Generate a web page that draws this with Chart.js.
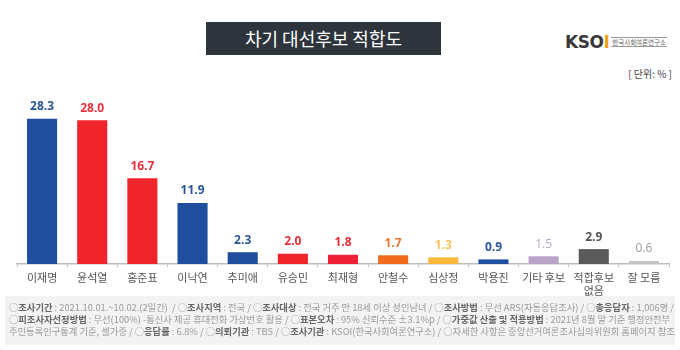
<!DOCTYPE html>
<html>
<head>
<meta charset="utf-8">
<script src="https://cdn.jsdelivr.net/npm/chart.js@4"></script>
<style>
  body { margin: 0; width: 680px; height: 350px; background: #fff; font-family: "Noto Sans CJK KR", "Noto Sans", sans-serif; position: relative; overflow: hidden; }
  #title { position: absolute; left: 206px; top: 22px; width: 235px; height: 33px; background: #2e343c; color: #fff; font-size: 18px; line-height: 33px; text-align: center; }
  #logo { position: absolute; left: 565px; top: 32px; height: 20px; display: flex; align-items: center; }
  #logo .k { font-family: "DejaVu Sans", sans-serif; font-weight: bold; font-size: 17px; color: #3a3a3a; letter-spacing: -0.5px; }
  #logo .k span { color: #f0a020; }
  #logo .sub { margin-left: 2px; font-size: 6.5px; color: #666; border-top: 1px solid #999; border-bottom: 1px solid #999; line-height: 8px; padding: 0 1px; }
  #unit { position: absolute; right: 8px; top: 66px; font-size: 10px; color: #444; }
  #chartBox { position: absolute; left: 0; top: 0; width: 680px; height: 300px; }
  #footer { position: absolute; left: 5px; top: 296px; width: 670px; height: 49px; background: #f3f3f3; font-size: 9.3px; color: #9a9a9a; line-height: 12px; padding: 5px 0 0 4px; box-sizing: border-box; white-space: nowrap; }
  #footer b { color: #666; }
</style>
</head>
<body>
<div id="title">차기 대선후보 적합도</div>
<div id="logo"><div class="k">KSO<span>I</span></div><div class="sub">한국사회여론연구소</div></div>
<div id="unit">[ 단위: % ]</div>
<div id="chartBox"><canvas id="chart"></canvas></div>
<div id="footer">
  ○<b>조사기간</b> : 2021.10.01.~10.02.(2일간) &nbsp;/ ○<b>조사지역</b> : 전국 / ○<b>조사대상</b> : 전국 거주 만 18세 이상 성인남녀 / ○<b>조사방법</b> : 무선 ARS(자동응답조사) / ○<b>총응답자</b> : 1,006명 /<br>
  ○<b>피조사자선정방법</b> : 무선(100%) -통신사 제공 휴대전화 가상번호 활용 / ○<b>표본오차</b> : 95% 신뢰수준 ±3.1%p / ○<b>가중값 산출 및 적용방법</b> : 2021년 8월 말 기준 행정안전부<br>
  주민등록인구통계 기준, 셀가중 / ○<b>응답률</b> : 6.8% / ○<b>의뢰기관</b> : TBS / ○<b>조사기관</b> : KSOI(한국사회여론연구소) / ○자세한 사항은 중앙선거여론조사심의위원회 홈페이지 참조
</div>
<script>
const candidates = ['이재명', '윤석열', '홍준표', '이낙연', '추미애', '유승민', '최재형', '안철수', '심상정', '박용진', '기타 후보', ['적합후보', '없음'], '잘 모름'];
const support = [28.3, 28.0, 16.7, 11.9, 2.3, 2.0, 1.8, 1.7, 1.3, 0.9, 1.5, 2.9, 0.6];
const barColors = ['#1f4e9e', '#f0242b', '#f0242b', '#1f4e9e', '#1f4e9e', '#f0242b', '#ee2138', '#f26a1e', '#fbb83a', '#1f4e9e', '#b9a3c9', '#5a5a5a', '#c4c4c4'];
const labelColors = ['#2a5597', '#e8303a', '#e8303a', '#2a5597', '#2a5597', '#e8303a', '#e8303a', '#e87530', '#f8c45a', '#2a5597', '#b9a8c9', '#555555', '#9a9a9a'];

const valueLabels = {
  id: 'valueLabels',
  afterDatasetsDraw(chart) {
    const ctx = chart.ctx;
    const meta = chart.getDatasetMeta(0);
    ctx.save();
    ctx.textAlign = 'center';
    ctx.textBaseline = 'middle';
    meta.data.forEach((bar, i) => {
      const light = i === 10 || i === 12;
      ctx.font = (light ? '' : 'bold ') + '12px "Open Sans", "Noto Sans", sans-serif';
      ctx.fillStyle = labelColors[i];
      ctx.fillText(support[i].toFixed(1), bar.x, bar.y - 12);
    });
    ctx.restore();
  }
};

new Chart(document.getElementById('chart'), {
  type: 'bar',
  data: {
    labels: candidates,
    datasets: [{
      data: support,
      backgroundColor: barColors,
      barPercentage: 0.6,
      categoryPercentage: 1
    }]
  },
  options: {
    responsive: true,
    maintainAspectRatio: false,
    animation: false,
    layout: { padding: { top: 110, left: 17, right: 11, bottom: 0 } },
    plugins: { legend: { display: false }, tooltip: { enabled: false } },
    scales: {
      x: {
        afterFit(scale) { scale.height = 36; },
        border: { color: '#bdbdbd', width: 1.5 },
        grid: { drawOnChartArea: false, tickLength: 3, color: '#bdbdbd' },
        ticks: { color: '#555', font: { size: 11, family: '"Noto Sans CJK KR", sans-serif' }, padding: 4, maxRotation: 0, autoSkip: false }
      },
      y: { display: false, min: 0, max: 30 }
    }
  },
  plugins: [valueLabels]
});
</script>
</body>
</html>
